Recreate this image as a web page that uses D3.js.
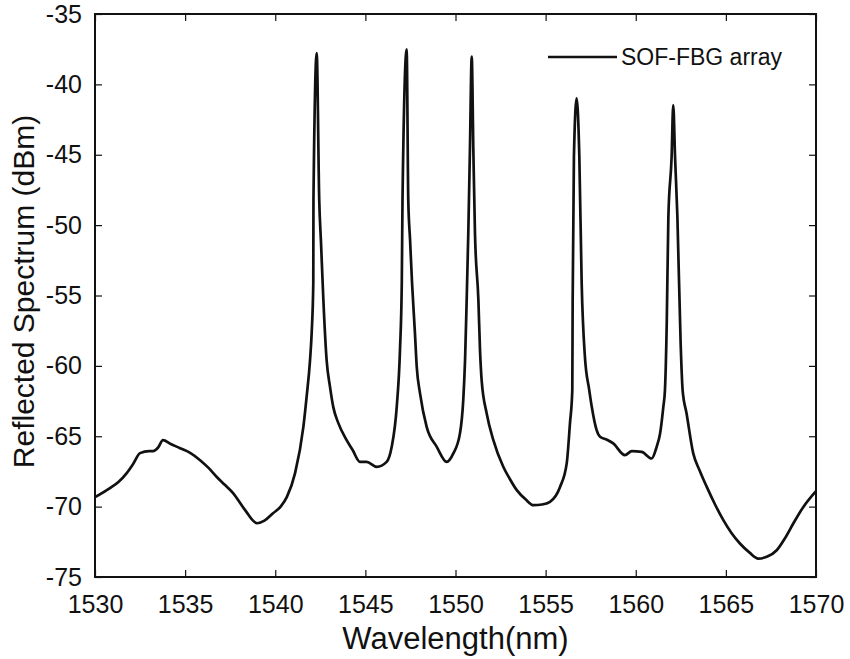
<!DOCTYPE html>
<html>
<head>
<meta charset="utf-8">
<script src="https://cdn.jsdelivr.net/npm/d3@7"></script>
<style>
  body { margin: 0; background: #fff; }
  text { font-family: "Liberation Sans", Arial, sans-serif; fill: #111; }
</style>
</head>
<body>
<div id="chart"></div>
<script>
// wavelength (nm) and reflected power (dBm)
const wavelength = [
  1530.00, 1530.83, 1531.30, 1531.76, 1532.10, 1532.50, 1533.00, 1533.22, 1533.50, 1533.77,
  1534.20, 1534.72, 1535.30, 1535.83, 1536.30, 1536.77, 1537.20, 1537.66, 1538.30, 1538.99,
  1539.40, 1539.88, 1540.30, 1540.64, 1541.10, 1541.56, 1541.74, 1541.93, 1542.02, 1542.11,
  1542.12, 1542.30, 1542.44, 1542.54, 1542.67, 1542.85, 1543.04, 1543.22, 1543.50, 1543.96,
  1544.30, 1544.70, 1545.07, 1545.63, 1546.18, 1546.46, 1546.74, 1546.92, 1547.02, 1547.06,
  1547.29, 1547.38, 1547.48, 1547.59, 1547.75, 1547.85, 1548.03, 1548.40, 1548.96, 1549.51,
  1549.88, 1550.25, 1550.43, 1550.53, 1550.62, 1550.71, 1550.80, 1550.90, 1550.99, 1551.08,
  1551.27, 1551.36, 1551.45, 1551.73, 1552.10, 1552.65, 1553.00, 1553.40, 1553.90, 1554.32,
  1554.80, 1555.24, 1555.80, 1556.17, 1556.35, 1556.48, 1556.50, 1556.57, 1556.72, 1556.87,
  1557.00, 1557.18, 1557.42, 1557.56, 1557.83, 1558.02, 1558.40, 1558.75, 1559.40, 1559.78,
  1560.33, 1560.88, 1561.16, 1561.35, 1561.53, 1561.62, 1561.72, 1561.81, 1561.99, 1562.08,
  1562.18, 1562.31, 1562.49, 1562.60, 1562.82, 1563.19, 1563.55, 1563.94, 1564.40, 1564.86,
  1565.30, 1565.78, 1566.30, 1566.80, 1567.30, 1567.82, 1568.30, 1568.74, 1569.30, 1570.00
];
const power = [
  -69.33, -68.69, -68.25, -67.62, -67.00, -66.20, -66.05, -66.06, -65.80, -65.28,
  -65.55, -65.85, -66.20, -66.70, -67.25, -67.91, -68.45, -69.04, -70.20, -71.18,
  -71.00, -70.47, -70.00, -69.33, -67.62, -64.33, -62.20, -59.59, -57.67, -54.12,
  -48.22, -37.77, -48.22, -51.28, -55.33, -59.59, -61.51, -62.93, -64.07, -65.28,
  -66.00, -66.82, -66.82, -67.17, -66.82, -65.75, -62.91, -58.88, -54.12, -48.22,
  -37.51, -48.22, -51.06, -54.12, -57.67, -60.07, -61.94, -64.33, -65.75, -66.82,
  -66.22, -64.78, -62.43, -59.59, -55.33, -50.57, -44.67, -38.03, -44.67, -50.57,
  -55.33, -58.88, -61.01, -63.38, -65.28, -67.17, -68.00, -68.83, -69.50, -69.90,
  -69.85, -69.66, -68.60, -66.93, -64.09, -61.72, -55.33, -45.14, -40.99, -45.14,
  -54.12, -59.36, -61.72, -62.91, -64.57, -65.04, -65.25, -65.51, -66.34, -66.06,
  -66.11, -66.58, -65.75, -64.80, -62.91, -61.72, -56.96, -49.41, -45.14, -41.47,
  -45.14, -49.41, -58.38, -61.72, -63.38, -66.22, -67.45, -68.60, -69.85, -70.96,
  -71.85, -72.62, -73.25, -73.69, -73.55, -73.10, -72.20, -71.20, -70.02, -68.90
];
const xTicks = [1530, 1535, 1540, 1545, 1550, 1555, 1560, 1565, 1570];
const yTicks = [-35, -40, -45, -50, -55, -60, -65, -70, -75];
const seriesName = "SOF-FBG array";

const data = wavelength.map((w, i) => ({ w: w, p: power[i] }));

const W = 850, H = 659;
const margin = { top: 14, right: 34, bottom: 82, left: 95 },
    width = W - margin.left - margin.right,
    height = H - margin.top - margin.bottom;

const svg = d3.select("#chart").append("svg")
    .attr("width", W)
    .attr("height", H);

const g = svg.append("g").attr("transform", `translate(${margin.left},${margin.top})`);

const x = d3.scaleLinear().domain([1530, 1570]).range([0, width]);
const y = d3.scaleLinear().domain([-75, -35]).range([height, 0]);

// ticks hacia dentro, en los cuatro lados
const tickLen = 7;
function styleAxis(sel) {
    sel.select(".domain").remove();
    sel.selectAll("line").attr("stroke", "#111").attr("stroke-width", 1.2);
    sel.selectAll("text").style("font-size", "25px").attr("fill", "#111");
}

g.append("g")
    .attr("transform", `translate(0,${height})`)
    .call(d3.axisBottom(x).tickValues(xTicks).tickSize(-tickLen).tickPadding(18).tickFormat(d3.format("d")))
    .call(styleAxis);

g.append("g")
    .call(d3.axisTop(x).tickValues(xTicks).tickSize(-tickLen).tickFormat(""))
    .call(styleAxis);

g.append("g")
    .call(d3.axisLeft(y).tickValues(yTicks).tickSize(-tickLen).tickPadding(13).tickFormat(d => d))
    .call(styleAxis);

g.append("g")
    .attr("transform", `translate(${width},0)`)
    .call(d3.axisRight(y).tickValues(yTicks).tickSize(-tickLen).tickFormat(""))
    .call(styleAxis);

// caja
g.append("rect")
    .attr("width", width)
    .attr("height", height)
    .attr("fill", "none")
    .attr("stroke", "#111")
    .attr("stroke-width", 2);

// curva
const line = d3.line()
    .x(d => x(d.w))
    .y(d => y(d.p))
    .curve(d3.curveMonotoneX);

g.append("path")
    .datum(data)
    .attr("fill", "none")
    .attr("stroke", "#111")
    .attr("stroke-width", 2.7)
    .attr("stroke-linejoin", "round")
    .attr("d", line);

// leyenda
svg.append("line")
    .attr("x1", 548).attr("x2", 617)
    .attr("y1", 57).attr("y2", 57)
    .attr("stroke", "#111")
    .attr("stroke-width", 2.4);
svg.append("text")
    .attr("x", 621)
    .attr("y", 65)
    .style("font-size", "23px")
    .text(seriesName);

// títulos de ejes
svg.append("text")
    .attr("x", margin.left + width / 2)
    .attr("y", 649)
    .attr("text-anchor", "middle")
    .style("font-size", "31px")
    .text("Wavelength(nm)");

svg.append("text")
    .attr("transform", `translate(34,${margin.top + height / 2 - 4}) rotate(-90)`)
    .attr("text-anchor", "middle")
    .style("font-size", "30px")
    .text("Reflected Spectrum (dBm)");
</script>
</body>
</html>
